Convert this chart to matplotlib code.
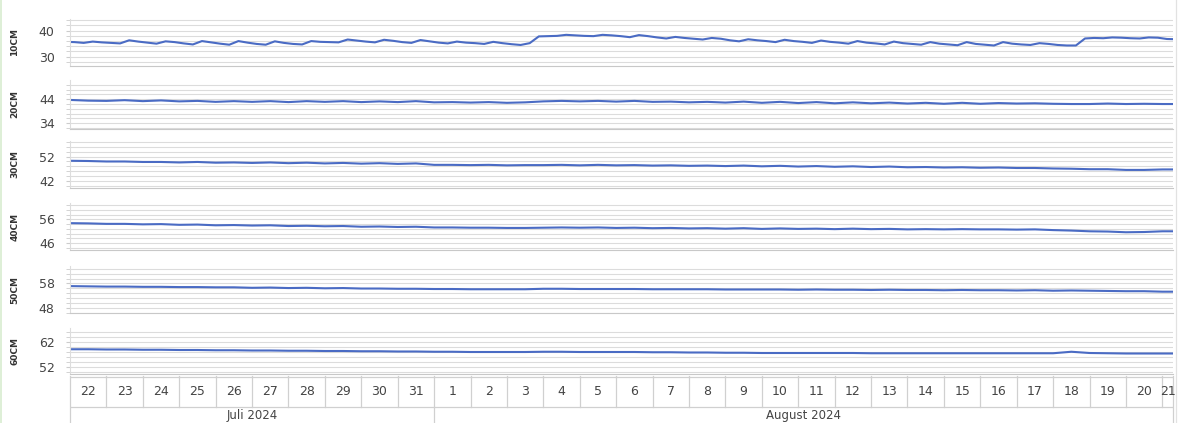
import matplotlib
matplotlib.use("Agg")
import matplotlib.pyplot as plt
import matplotlib.dates as mdates
import numpy as np
import pandas as pd
from matplotlib.lines import Line2D

# soil moisture per depth
depth_labels = ["10CM", "20CM", "30CM", "40CM", "50CM", "60CM"]
y_ticks = [[30, 40], [34, 44], [42, 52], [46, 56], [48, 58], [52, 62]]
y_limits = [(26.4, 44.5), (31.6, 52.0), (39.0, 58.5), (43.2, 62.8), (45.8, 65.2), (49.2, 67.6)]

# 10 cm: every 6 h from 2024-07-21 21:00 (03, 09, 15, 21 h each day)
moist_10cm = [
    35.7,
    35.6, 35.3, 35.8, 35.5,   # Jul 22
    35.3, 35.1, 36.3, 35.8,
    35.4, 35.0, 35.9, 35.6,
    35.1, 34.7, 36.0, 35.5,
    35.0, 34.6, 36.0, 35.4,
    34.9, 34.6, 35.9, 35.3,
    34.9, 34.7, 36.0, 35.7,
    35.6, 35.5, 36.6, 36.2,
    35.8, 35.5, 36.5, 36.1,
    35.6, 35.3, 36.4, 35.9,   # Jul 31
    35.4, 35.1, 35.8, 35.4,   # Aug 1
    35.2, 34.9, 35.7, 35.2,
    34.8, 34.5, 35.2, 37.8,
    37.9, 38.0, 38.4, 38.2,
    38.0, 37.9, 38.4, 38.2,
    37.9, 37.5, 38.3, 37.9,
    37.4, 37.0, 37.6, 37.2,
    36.9, 36.6, 37.2, 36.9,
    36.3, 35.9, 36.7, 36.3,
    36.0, 35.6, 36.5, 36.0,   # Aug 10
    35.7, 35.3, 36.2, 35.7,
    35.4, 35.0, 36.0, 35.4,
    35.1, 34.7, 35.8, 35.2,
    34.9, 34.6, 35.6, 35.0,
    34.7, 34.4, 35.6, 34.9,
    34.6, 34.3, 35.6, 35.0,
    34.7, 34.5, 35.2, 34.9,
    34.5, 34.3, 34.3, 37.0,   # Aug 18
    37.2, 37.1, 37.4, 37.3,
    37.1, 37.0, 37.4, 37.3,
    36.8, 36.7,
]

# deeper sensors: every 12 h from 2024-07-22 00:00 (00 h, 12 h)
moist_20cm = [
    43.7, 43.4, 43.3, 43.6, 43.2, 43.5, 43.1, 43.3, 42.9, 43.2,
    42.9, 43.2, 42.8, 43.2, 42.9, 43.2, 42.8, 43.1, 42.8, 43.2,
    42.7, 42.8, 42.6, 42.8, 42.5, 42.7, 43.1, 43.3, 43.1, 43.3,
    43.0, 43.3, 42.9, 43.0, 42.7, 42.9, 42.6, 43.0, 42.5, 42.9,
    42.4, 42.8, 42.3, 42.7, 42.3, 42.6, 42.2, 42.5, 42.1, 42.5,
    42.1, 42.4, 42.2, 42.3, 42.1, 42.0, 42.0, 42.2, 42.0, 42.1,
    42.0, 42.0,
]
moist_30cm = [
    50.3, 50.2, 50.0, 50.0, 49.8, 49.8, 49.6, 49.8, 49.5, 49.6,
    49.4, 49.6, 49.3, 49.5, 49.2, 49.4, 49.1, 49.3, 49.0, 49.2,
    48.6, 48.6, 48.5, 48.6, 48.4, 48.5, 48.5, 48.6, 48.4, 48.6,
    48.4, 48.5, 48.3, 48.4, 48.2, 48.3, 48.1, 48.3, 48.0, 48.2,
    47.9, 48.1, 47.8, 48.0, 47.7, 47.9, 47.6, 47.7, 47.5, 47.6,
    47.4, 47.5, 47.3, 47.3, 47.1, 47.0, 46.8, 46.8, 46.5, 46.5,
    46.7, 46.7,
]
moist_40cm = [
    54.4, 54.3, 54.1, 54.1, 53.9, 54.0, 53.7, 53.8, 53.5, 53.6,
    53.4, 53.5, 53.2, 53.3, 53.1, 53.2, 52.9, 53.0, 52.8, 52.9,
    52.6, 52.6, 52.5, 52.5, 52.4, 52.4, 52.5, 52.6, 52.5, 52.6,
    52.4, 52.5, 52.3, 52.4, 52.2, 52.3, 52.1, 52.3, 52.0, 52.2,
    52.0, 52.1, 51.9, 52.1, 51.9, 52.0, 51.8, 51.9, 51.8, 51.9,
    51.8, 51.8, 51.7, 51.8, 51.5, 51.3, 51.0, 50.9, 50.6, 50.7,
    51.0, 51.0,
]
moist_50cm = [
    56.9, 56.8, 56.7, 56.7, 56.6, 56.6, 56.5, 56.5, 56.4, 56.4,
    56.2, 56.3, 56.1, 56.2, 56.0, 56.1, 55.9, 55.9, 55.8, 55.8,
    55.7, 55.7, 55.6, 55.6, 55.6, 55.6, 55.8, 55.8, 55.7, 55.7,
    55.7, 55.7, 55.6, 55.6, 55.6, 55.6, 55.5, 55.5, 55.5, 55.5,
    55.4, 55.5, 55.4, 55.4, 55.3, 55.4, 55.3, 55.3, 55.2, 55.3,
    55.2, 55.2, 55.1, 55.2, 55.0, 55.1, 55.0, 54.9, 54.8, 54.8,
    54.6, 54.6,
]
moist_60cm = [
    59.1, 59.1, 59.0, 59.0, 58.9, 58.9, 58.8, 58.8, 58.7, 58.7,
    58.6, 58.6, 58.5, 58.5, 58.4, 58.4, 58.3, 58.3, 58.2, 58.2,
    58.1, 58.1, 58.0, 58.0, 58.0, 58.0, 58.1, 58.1, 58.0, 58.0,
    58.0, 58.0, 57.9, 57.9, 57.8, 57.8, 57.7, 57.7, 57.6, 57.6,
    57.6, 57.6, 57.6, 57.6, 57.5, 57.5, 57.5, 57.5, 57.5, 57.5,
    57.5, 57.5, 57.5, 57.5, 57.5, 58.1, 57.6, 57.5, 57.4, 57.4,
    57.4, 57.4,
]

days_jul = list(range(22, 32))
days_aug = list(range(1, 22))
month_names = ["Juli 2024", "August 2024"]

t10 = pd.date_range("2024-07-21 21:00", periods=len(moist_10cm), freq="6h")
t_deep = pd.date_range("2024-07-22 00:00", periods=len(moist_20cm), freq="12h")
series = [(t10, moist_10cm), (t_deep, moist_20cm), (t_deep, moist_30cm),
          (t_deep, moist_40cm), (t_deep, moist_50cm), (t_deep, moist_60cm)]

x0 = mdates.date2num(pd.Timestamp("2024-07-22 00:00"))
x1 = mdates.date2num(pd.Timestamp("2024-08-21 07:00"))

W, H = 1181, 423
fig = plt.figure(figsize=(W / 100, H / 100), dpi=100)
fig.patch.set_facecolor("white")

LINE = "#4a6bc4"
GRID = "#dcdcdc"
TXT = "#444444"
left, right = 70, 1173
panels_px = [(19, 66), (80, 129), (141, 188), (203, 250), (266, 313), (328, 374)]

for k, ((top, bot), (t, vals)) in enumerate(zip(panels_px, series)):
    ax = fig.add_axes([left / W, 1 - bot / H, (right - left) / W, (bot - top) / H])
    ax.plot(t, vals, color=LINE, lw=1.5, solid_joinstyle="round")
    ax.set_xlim(x0, x1)
    lo, hi = y_limits[k]
    ax.set_ylim(lo, hi)
    ax.set_yticks(y_ticks[k])
    ax.set_yticks(np.arange(np.ceil(lo / 2) * 2, hi, 2), minor=True)
    ax.grid(True, which="both", axis="y", color=GRID, lw=0.8)
    ax.set_axisbelow(True)
    ax.tick_params(axis="y", which="both", length=3, color="#cccccc", labelsize=9,
                   labelcolor=TXT, pad=8)
    ax.tick_params(axis="x", bottom=False, labelbottom=False)
    for s in ["top", "right"]:
        ax.spines[s].set_visible(False)
    ax.spines["left"].set_color("#dddddd")
    ax.spines["bottom"].set_color("#c8c8c8")
    fig.text(15 / W, 1 - (top + bot) / 2 / H, depth_labels[k], rotation=90,
             ha="center", va="center", fontsize=6.5, fontweight="bold", color="#333333")

# date axis as a two-row table
axx = fig.add_axes([left / W, 0, (right - left) / W, (H - 376) / H])
axx.set_xlim(x0, x1)
axx.set_ylim(0, H - 376)
axx.axis("off")
BOX = "#d0d0d0"
axx.axhline(H - 376 - 0.5, color=BOX, lw=0.9)
axx.axhline(H - 407, color=BOX, lw=0.9)
all_days = [pd.Timestamp(2024, 7, d) for d in days_jul] + [pd.Timestamp(2024, 8, d) for d in days_aug]
for d in all_days:
    xd = mdates.date2num(d)
    full = d.day in (22, 1)
    axx.plot([xd, xd], [0 if full else H - 407, H - 376], color=BOX, lw=0.9, clip_on=False)
    xc = min(xd + 0.5, (xd + x1) / 2)
    axx.text(xc, H - 391.5, str(d.day), ha="center", va="center", fontsize=9, color=TXT)
axx.plot([x1, x1], [0, H - 376], color=BOX, lw=0.9, clip_on=False)
aug1 = mdates.date2num(pd.Timestamp("2024-08-01"))
axx.text((x0 + aug1) / 2, H - 415, month_names[0], ha="center", va="center", fontsize=8.5, color=TXT)
axx.text((aug1 + x1) / 2, H - 415, month_names[1], ha="center", va="center", fontsize=8.5, color=TXT)

# outer frame lines
fig.add_artist(Line2D([1175.5 / W] * 2, [0, 1], color="#e2e2e2", lw=0.9))
fig.add_artist(Line2D([1.5 / W] * 2, [0, 1], color="#d8ecd0", lw=1.2))

fig.savefig("out.png", dpi=100)
